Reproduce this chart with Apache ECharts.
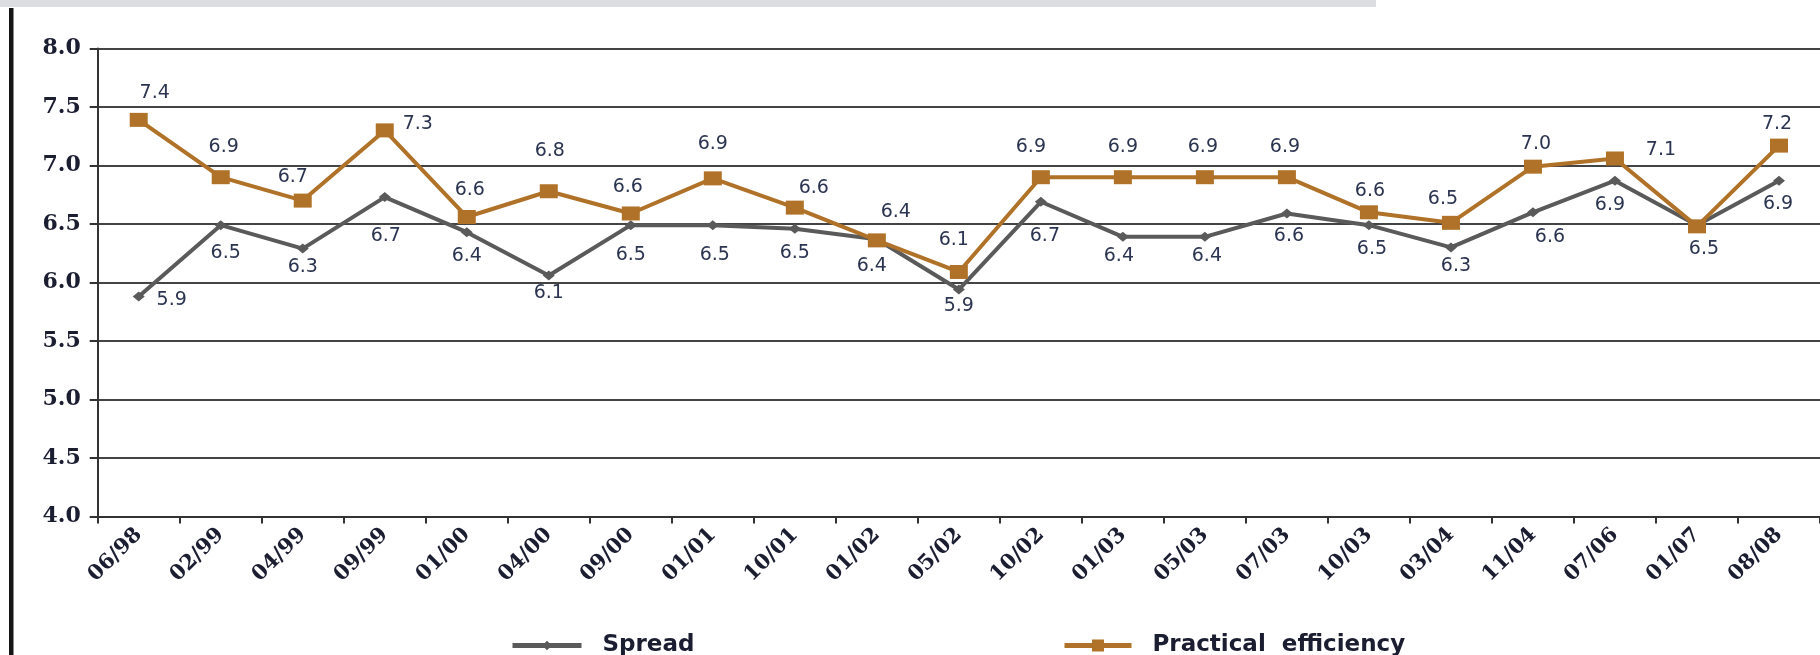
<!DOCTYPE html>
<html>
<head>
<meta charset="utf-8">
<script src="https://cdn.jsdelivr.net/npm/echarts@6/dist/echarts.min.js"></script>
<style>
  html, body { margin: 0; padding: 0; background: #ffffff; }
  #chart { width: 1820px; height: 655px; }
</style>
</head>
<body>
<div id="chart"></div>
<script>
// Survey dates
const categories = ['06/98', '02/99', '04/99', '09/99', '01/00', '04/00', '09/00', '01/01', '10/01', '01/02',
  '05/02', '10/02', '01/03', '05/03', '07/03', '10/03', '03/04', '11/04', '07/06', '01/07', '08/08'];

// Series values
const spread = [5.88, 6.49, 6.29, 6.73, 6.43, 6.06, 6.49, 6.49, 6.46, 6.37,
  5.94, 6.69, 6.39, 6.39, 6.59, 6.49, 6.30, 6.60, 6.87, 6.49, 6.87];
const practicalEfficiency = [7.39, 6.90, 6.70, 7.30, 6.56, 6.78, 6.59, 6.89, 6.64, 6.36,
  6.09, 6.90, 6.90, 6.90, 6.90, 6.60, 6.51, 6.99, 7.06, 6.48, 7.17];

// Value axis
const yMin = 4.0;
const yMax = 8.0;
const yStep = 0.5;

// Label placement (pixel offset of each value label from its point)
const spreadLabelOffset = [[33, 4], [5, 28], [0, 18], [1, 39], [0, 24], [0, 18], [0, 30], [2, 30], [0, 24], [-5, 27],
  [0, 17], [4, 34], [-4, 19], [2, 19], [2, 23], [3, 24], [5, 19], [17, 25], [-5, 24], [7, 24], [-1, 23]];
const effLabelOffset = [[16, -27], [3, -30], [-10, -24], [33, -6], [3, -27], [1, -40], [-3, -26], [0, -34], [19, -20], [19, -28],
  [-5, -32], [-10, -30], [0, -30], [-2, -30], [-2, -30], [1, -21], [-8, -24], [3, -23], [46, -8], null, [-2, -22]];

const ORANGE = '#b07228';
const GREY = '#5a5a5a';
const LABEL_COLOR = '#2b3450';
const AXIS_TEXT = '#1b1d30';

const labelStyle = {
  color: LABEL_COLOR,
  fontFamily: 'DejaVu Sans',
  fontSize: 19,
  textBorderWidth: 0
};

function pointsWithLabels(values, offsets) {
  return values.map(function (v, i) {
    const off = offsets[i];
    if (!off) {
      return { value: v, label: { show: false } };
    }
    return {
      value: v,
      label: Object.assign({
        show: true,
        position: 'inside',
        offset: off,
        formatter: v.toFixed(1)
      }, labelStyle)
    };
  });
}

const legendText = {
  color: AXIS_TEXT,
  fontFamily: 'DejaVu Sans',
  fontWeight: 'bold',
  fontSize: 23,
  padding: [0, 0, 0, 16]
};

const chart = echarts.init(document.getElementById('chart'), null, { renderer: 'canvas' });

chart.setOption({
  animation: false,
  backgroundColor: '#ffffff',
  graphic: [
    // light band across the top
    { type: 'rect', left: 0, top: 0, z: 0, shape: { width: 1376, height: 7 }, style: { fill: '#dcdde0' } },
    // dark rule down the left edge
    { type: 'rect', left: 9, top: 8, z: 0, shape: { width: 4.5, height: 647 }, style: { fill: '#151515' } }
  ],
  grid: {
    left: 97.7,
    right: -4,
    top: 48.5,
    bottom: 138.5,
    containLabel: false
  },
  legend: [
    {
      data: ['Spread'],
      left: 505,
      top: 629,
      itemWidth: 69,
      itemHeight: 12,
      itemGap: 0,
      lineStyle: { width: 5 },
      textStyle: legendText
    },
    {
      data: ['Practical efficiency'],
      left: 1057,
      top: 629,
      itemWidth: 67,
      itemHeight: 15,
      itemGap: 0,
      lineStyle: { width: 5 },
      formatter: function (name) { return name.replace(' ', '  '); },
      textStyle: legendText
    }
  ],
  xAxis: {
    type: 'category',
    data: categories,
    boundaryGap: true,
    axisLine: { show: true, lineStyle: { color: '#333333', width: 2 } },
    axisTick: { show: true, alignWithLabel: false, length: 7, lineStyle: { color: '#333333', width: 2 } },
    axisLabel: {
      interval: 0,
      rotate: 45,
      margin: 15,
      color: AXIS_TEXT,
      fontFamily: 'DejaVu Serif',
      fontWeight: 'bold',
      fontSize: 21
    },
    splitLine: { show: false }
  },
  yAxis: {
    type: 'value',
    min: yMin,
    max: yMax,
    interval: yStep,
    axisLine: { show: true, lineStyle: { color: '#333333', width: 2 } },
    axisTick: { show: true, length: 8, lineStyle: { color: '#333333', width: 2 } },
    axisLabel: {
      margin: 17,
      color: AXIS_TEXT,
      fontFamily: 'DejaVu Serif',
      fontWeight: 'bold',
      fontSize: 22,
      formatter: function (v) { return v.toFixed(1); }
    },
    splitLine: { show: true, lineStyle: { color: '#444444', width: 2 } }
  },
  series: [
    {
      name: 'Spread',
      type: 'line',
      data: pointsWithLabels(spread, spreadLabelOffset),
      symbol: 'diamond',
      symbolSize: [12, 10],
      showAllSymbol: true,
      lineStyle: { color: GREY, width: 4 },
      itemStyle: { color: GREY },
      z: 3
    },
    {
      name: 'Practical efficiency',
      type: 'line',
      data: pointsWithLabels(practicalEfficiency, effLabelOffset),
      symbol: 'rect',
      symbolSize: [18, 14],
      showAllSymbol: true,
      lineStyle: { color: ORANGE, width: 4 },
      itemStyle: { color: ORANGE },
      z: 4
    }
  ]
});
</script>
</body>
</html>
